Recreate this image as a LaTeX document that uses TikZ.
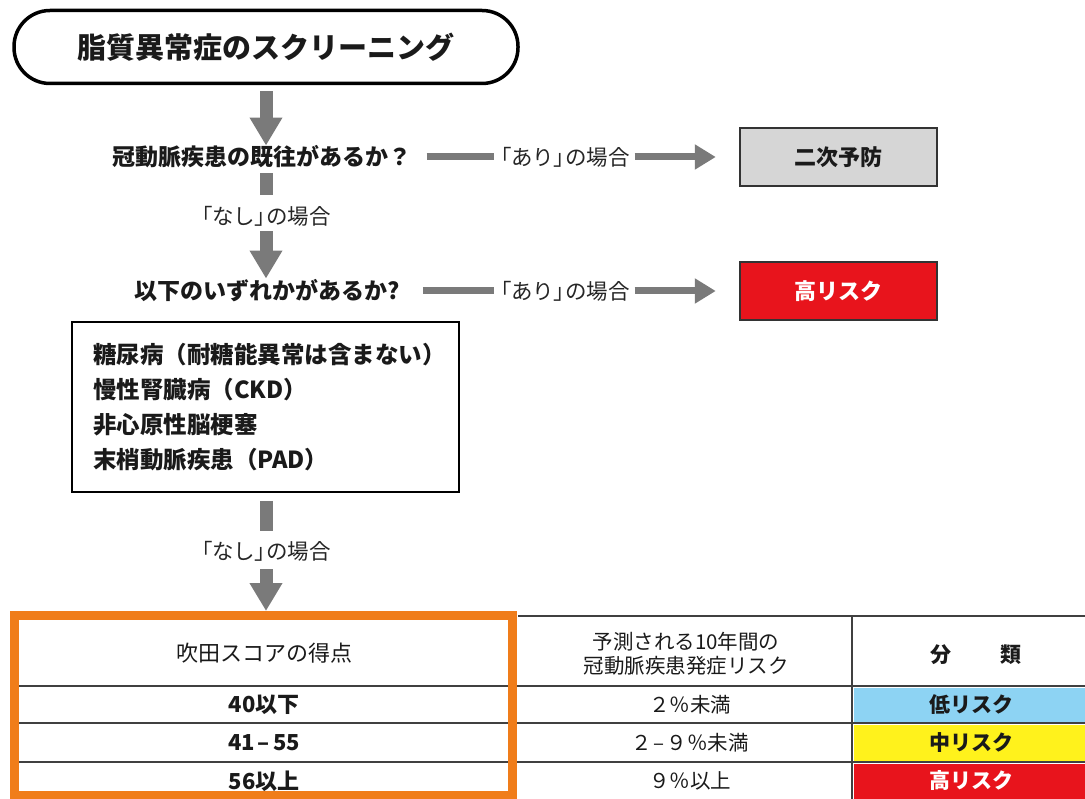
\documentclass[tikz,border=0pt]{standalone}
\usepackage{fontspec}
\setmainfont{Noto Sans CJK JP}
\usetikzlibrary{arrows.meta}
\definecolor{agray}{HTML}{7A7A7A}
\definecolor{boxgray}{HTML}{D6D6D6}
\definecolor{riskred}{HTML}{E8141C}
\definecolor{riskblue}{HTML}{8DD3F3}
\definecolor{riskyellow}{HTML}{FFF21C}
\definecolor{tblorange}{HTML}{F07D1A}
\definecolor{lineg}{HTML}{404040}
\definecolor{txt}{HTML}{1A1A1A}
\newcommand{\pbr}[1]{{\addfontfeatures{RawFeature=+palt}#1}}
\begin{document}
\begin{tikzpicture}[x=1pt,y=-1pt,
  titlebox/.style={draw=black,line width=3.5pt,rounded corners=36pt,minimum width=504pt,minimum height=73pt,inner sep=0pt,text=txt,font=\fontsize{29}{34}\selectfont\bfseries},
  q/.style={inner sep=0pt,text=txt,font=\fontsize{23}{27}\selectfont\bfseries},
  lbl/.style={inner sep=0pt,text=black!85,font=\fontsize{21.5}{25}\selectfont},
  rbox/.style={draw=black!80,line width=2.5pt,minimum width=197pt,minimum height=58pt,inner sep=0pt,font=\fontsize{22}{26}\selectfont\bfseries},
  listbox/.style={draw=black,line width=2pt,text width=345pt,inner xsep=21pt,inner ysep=0pt,minimum height=170pt,align=left,text=txt,font=\fontsize{23.5}{35}\selectfont\bfseries},
  vbar/.style={draw=agray,line width=13pt},
  varrow/.style={vbar,-{Triangle[width=31pt,length=28pt]}},
  hbar/.style={draw=agray,line width=7pt},
  harrow/.style={hbar,-{Triangle[width=24pt,length=21pt]}},
  tline/.style={draw=lineg,line width=2.5pt},
  cell/.style={inner sep=0pt,text=txt,align=center,font=\fontsize{20.5}{24}\selectfont},
  cellb/.style={inner sep=0pt,text=txt,align=center,font=\fontsize{22}{26}\selectfont\bfseries}
]
\useasboundingbox (0,0) rectangle (1085,799);

% flow nodes
\node[titlebox] (title) at (266,47) {脂質異常症のスクリーニング};
\node[q] (q1) at (262,157) {冠動脈疾患の既往があるか？};
\node[lbl] (n1) at (266,216) {\pbr{「}なし\pbr{」}の場合};
\node[q] (q2) at (267,291) {以下のいずれかがあるか?};
\node[lbl] (a1) at (565,157) {\pbr{「}あり\pbr{」}の場合};
\node[lbl] (a2) at (565,291) {\pbr{「}あり\pbr{」}の場合};
\node[rbox,fill=boxgray,text=txt] (b1) at (838.5,157) {二次予防};
\node[rbox,fill=riskred,text=white] (b2) at (838.5,291) {高リスク};
\node[listbox] (lst) at (265.5,407) {糖尿病（耐糖能異常は含まない）\\慢性腎臓病（CKD）\\非心原性脳梗塞\\末梢動脈疾患（PAD）};
\node[lbl] (n2) at (266,551) {\pbr{「}なし\pbr{」}の場合};
\coordinate (tbltop) at (266,611);

% connectors
\draw[varrow,shorten <=6pt] (title.south) -- (title.south |- q1.north);
\draw[vbar,shorten <=5pt,shorten >=11pt] (title.south |- q1.south) -- (n1.north);
\draw[varrow,shorten <=5pt,shorten >=1pt] (n1.south) -- (n1.south |- q2.north);
\draw[hbar,shorten <=15pt,shorten >=6pt] (q1.east) -- (a1.west);
\draw[harrow,shorten <=5pt,shorten >=23pt] (a1.east) -- (b1.west);
\draw[hbar,shorten <=23pt,shorten >=6pt] (q2.east) -- (a2.west);
\draw[harrow,shorten <=5pt,shorten >=23pt] (a2.east) -- (b2.west);
\draw[vbar,shorten <=8pt,shorten >=10pt] (n2.north |- lst.south) -- (n2.north);
\draw[varrow,shorten <=8pt] (n2.south) -- (tbltop);

% table
\fill[riskblue] (853.5,687.5) rectangle (1085,721.5);
\fill[riskyellow] (853.5,724.5) rectangle (1085,760.5);
\fill[riskred] (853.5,763.5) rectangle (1085,799);
\draw[tline] (518,616) -- (1085,616);
\draw[tline] (10,686) -- (1085,686);
\draw[tline] (10,723) -- (1085,723);
\draw[tline] (10,762) -- (1085,762);
\draw[tline] (852,616) -- (852,799);
\draw[draw=tblorange,line width=9pt] (14.5,615.5) rectangle (512.5,795);

\node[cell,font=\fontsize{22}{26}\selectfont] (h1) at (264,653) {吹田スコアの得点};
\node[cell] (h2) at (686,654) {予測される10年間の\\冠動脈疾患発症リスク};
\node[cellb,font=\fontsize{21}{25}\selectfont\bfseries] (h3) at (976,655) {分\hspace{49pt}類};
\node[cellb] (r1c1) at (264,705) {40以下};
\node[cellb] (r2c1) at (264,743) {41\hspace{3pt}–\hspace{3pt}55};
\node[cellb] (r3c1) at (264,781) {56以上};
\node[cell] (r1c2) at (690,705) {２％未満};
\node[cell] (r2c2) at (690,743) {２\hspace{2pt}–\hspace{2pt}９％未満};
\node[cell] (r3c2) at (690,781) {９％以上};
\node[cellb,font=\fontsize{21}{25}\selectfont\bfseries] (r1c3) at (971,705) {低リスク};
\node[cellb,font=\fontsize{21}{25}\selectfont\bfseries] (r2c3) at (971,743) {中リスク};
\node[cellb,font=\fontsize{21}{25}\selectfont\bfseries,text=white] (r3c3) at (971,781) {高リスク};
\end{tikzpicture}
\end{document}
